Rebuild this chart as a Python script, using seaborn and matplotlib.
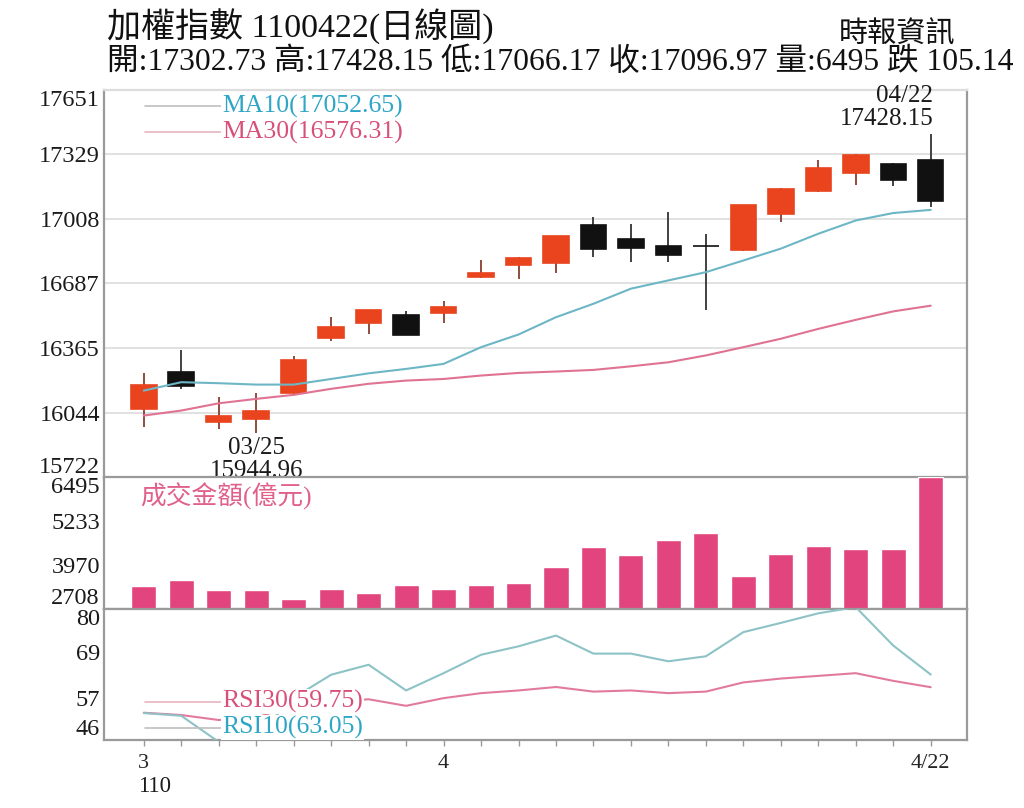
import numpy as np
import pandas as pd
import matplotlib
matplotlib.use('Agg')
import matplotlib.pyplot as plt
import seaborn as sns

# 1. Daily data (TAIEX, 110/03/22 - 110/04/22)
dates = ['03/22', '03/23', '03/24', '03/25', '03/26', '03/29', '03/30', '03/31',
         '04/01', '04/06', '04/07', '04/08', '04/09', '04/12', '04/13', '04/14',
         '04/15', '04/16', '04/19', '04/20', '04/21', '04/22']
opens = [16063, 16245, 15997, 16014, 16143, 16415, 16491, 16531, 16541, 16718, 16777,
         16788, 16976, 16909, 16873, 16873, 16855, 17030, 17146, 17236, 17283, 17302.73]
highs = [16240, 16357, 16124, 16143, 16324, 16519, 16555, 16552, 16602, 16801, 16818,
         16925, 17017, 16981, 17042, 16934, 17078, 17160, 17299, 17330, 17286, 17428.15]
lows = [15972, 16163, 15964, 15944.96, 16138, 16403, 16437, 16431, 16489, 16716, 16710,
        16740, 16818, 16793, 16793, 16556, 16850, 16992, 17143, 17175, 17170, 17066.17]
closes = [16184, 16179, 16026, 16055, 16304, 16470, 16553, 16432, 16572, 16740, 16815,
          16922, 16856, 16863, 16826, 16873, 17075, 17158, 17261, 17324, 17202.11, 17096.97]
ma10 = [16154, 16196, 16191, 16184, 16184, 16212, 16240, 16262, 16287, 16370, 16433,
        16519, 16586, 16661, 16702, 16743, 16801, 16860, 16934, 17000, 17037, 17052.65]
ma30 = [16030, 16055, 16091, 16113, 16133, 16163, 16188, 16204, 16212, 16229, 16242,
        16249, 16257, 16275, 16295, 16329, 16370, 16412, 16461, 16506, 16548, 16576.31]
volume = [3371, 3541, 3257, 3257, 3020, 3305, 3181, 3418, 3295, 3418, 3465,
          3920, 4488, 4270, 4696, 4904, 3674, 4298, 4526, 4441, 4441, 6495]
rsi10 = [53.0, 52.3, 45.5, 47.0, 57.0, 63.0, 65.6, 58.9, 63.4, 68.2, 70.4,
         73.2, 68.5, 68.5, 66.5, 67.8, 74.1, 76.5, 79.0, 80.6, 70.6, 63.05]
rsi30 = [53.1, 52.5, 51.2, 51.8, 55.0, 56.0, 56.6, 54.9, 56.9, 58.2, 58.9,
         59.8, 58.6, 58.9, 58.2, 58.6, 61.0, 62.0, 62.7, 63.4, 61.4, 59.75]

price_ticks = [15722, 16044, 16365, 16687, 17008, 17329, 17651]
vol_ticks = [2708, 3970, 5233, 6495]
rsi_ticks = [46, 57, 69, 80]
xtick_labels = ['3', '', '', '', '', '', '', '', '4', '', '', '', '', '', '', '',
                '', '', '', '', '', '4/22']

df = pd.DataFrame({'date': dates, 'open': opens, 'high': highs, 'low': lows,
                   'close': closes, 'ma10': ma10, 'ma30': ma30, 'volume': volume,
                   'rsi10': rsi10, 'rsi30': rsi30})
df['idx'] = np.arange(len(df))

RED = '#E9441E'
BLACK = '#111111'
VOL_C = '#E2457D'
MA10_C = '#6DB6C6'
MA30_C = '#E07292'
RSI10_C = '#8DC3C6'
RSI30_C = '#E27B9B'
SPINE = '#9a9a9a'

sns.set_theme(style='white')
plt.rcParams['font.family'] = ['Liberation Serif', 'Noto Sans CJK TC']

fig = plt.figure(figsize=(10.24, 8.08), dpi=100)
L, W = 0.1016, 0.8428
ax_p = fig.add_axes([L, 0.4090, W, 0.4802])
ax_v = fig.add_axes([L, 0.2457, W, 0.1634], sharex=ax_p)
ax_r = fig.add_axes([L, 0.0842, W, 0.1615], sharex=ax_p)

# 2. Candles
rise = df['close'] > df['open']
body_col = np.where(rise, RED, BLACK)
wick_col = np.where(rise, '#8a3e30', '#333333')
ax_p.vlines(df['idx'], df['low'], df['high'], colors=wick_col, linewidth=1.3, zorder=2)
ax_p.bar(df['idx'], (df['close'] - df['open']).abs(),
         bottom=df[['open', 'close']].min(axis=1), width=0.68,
         color=body_col, edgecolor=body_col, linewidth=1.2, zorder=3)
sns.lineplot(data=df, x='idx', y='ma10', color=MA10_C, linewidth=1.5, estimator=None, ax=ax_p, zorder=4)
sns.lineplot(data=df, x='idx', y='ma30', color=MA30_C, linewidth=1.5, estimator=None, ax=ax_p, zorder=4)

# 3. Volume
sns.barplot(data=df, x='idx', y='volume', native_scale=True, color=VOL_C, saturation=1,
            width=0.67, errorbar=None, ax=ax_v, zorder=3)

# 4. RSI
sns.lineplot(data=df, x='idx', y='rsi30', color=RSI30_C, linewidth=1.5, estimator=None, ax=ax_r, zorder=3)
sns.lineplot(data=df, x='idx', y='rsi10', color=RSI10_C, linewidth=1.5, estimator=None, ax=ax_r, zorder=3)

# 5. Axes styling
panels = [(ax_p, price_ticks), (ax_v, vol_ticks), (ax_r, rsi_ticks)]
for ax, ticks in panels:
    ax.set_ylim(ticks[0], ticks[-1])
    ax.set_yticks(ticks)
    ax.set_xlabel('')
    ax.set_ylabel('')
    ax.tick_params(axis='y', length=0, pad=3, labelsize=17.5, labelcolor='#1a1a1a')
    labels = ax.get_yticklabels()
    labels[0].set_va('bottom')
    labels[-1].set_va('top')
    for side in ['left', 'right', 'bottom', 'top']:
        ax.spines[side].set_color(SPINE)
        ax.spines[side].set_linewidth(1.6)
ax_p.spines['top'].set_color('#dddddd')
ax_p.grid(axis='y', color='#dcdcdc', linewidth=1.2)
ax_p.set_axisbelow(True)

ax_r.set_xlim(-1.06, 21.97)
ax_r.set_xticks(df['idx'])
ax_r.set_xticklabels(xtick_labels)
ax_r.tick_params(axis='x', bottom=True, length=4, width=1, color=SPINE, pad=6, labelsize=16)
for ax in [ax_p, ax_v]:
    ax.tick_params(axis='x', bottom=False, labelbottom=False)

# 6. Legends and labels
tfont = dict(fontsize=18.5)
leg = [(ax_p, 0.9575, 'MA10(%.2f)' % ma10[-1], '#bfbfbf', '#2FA6C6'),
       (ax_p, 0.8905, 'MA30(%.2f)' % ma30[-1], '#e8b5c2', '#D8507A'),
       (ax_r, 0.2935, 'RSI30(%.2f)' % rsi30[-1], '#e8b5c2', '#D8507A'),
       (ax_r, 0.0940, 'RSI10(%.2f)' % rsi10[-1], '#bfbfbf', '#2FA6C6')]
for ax, y, txt, lc, tc in leg:
    ax.plot([0.0475, 0.1367], [y, y], transform=ax.transAxes, color=lc, linewidth=1.2, zorder=5)
    ax.text(0.1367, y, txt, transform=ax.transAxes, color=tc, va='center', ha='left', zorder=6,
            bbox=dict(facecolor='white', edgecolor='none', pad=0.5), **tfont)

ax_v.text(0.042, 0.86, '成交金額(億元)', transform=ax_v.transAxes, color='#E0608A',
          va='center', ha='left', fontsize=18.5, zorder=6)

lo = int(df['low'].idxmin())
hi = int(df['high'].idxmax())
ax_p.annotate('%s\n%.2f' % (dates[lo], lows[lo]), xy=(lo, lows[lo]), xytext=(0, -3),
              textcoords='offset points', ha='center', va='top', fontsize=18,
              linespacing=1.05, color='#1a1a1a', zorder=6, annotation_clip=False)
ax_p.annotate('%s\n%.2f' % (dates[hi], highs[hi]), xy=(hi, highs[hi]), xytext=(2, 3),
              textcoords='offset points', ha='right', va='bottom', fontsize=18,
              linespacing=1.05, color='#1a1a1a', zorder=6, annotation_clip=False)

fig.text(138 / 1024, 1 - 787 / 808, '110', ha='left', va='center', fontsize=16.5, color='#1a1a1a')

# 7. Header
fig.text(0.1045, 0.9660, '加權指數 1100422(日線圖)', ha='left', va='center', fontsize=24.5, color='#111111')
fig.text(0.9326, 0.9567, '時報資訊', ha='right', va='center', fontsize=21, color='#111111')
fig.text(0.1045, 0.9225,
         '開:%.2f 高:%.2f 低:%.2f 收:%.2f 量:%d 跌 %.2f' % (opens[-1], highs[-1], lows[-1],
                                                     closes[-1], volume[-1], closes[-2] - closes[-1]),
         ha='left', va='center', fontsize=22.8, color='#111111')

fig.savefig('out.png', dpi=100, facecolor='white')
